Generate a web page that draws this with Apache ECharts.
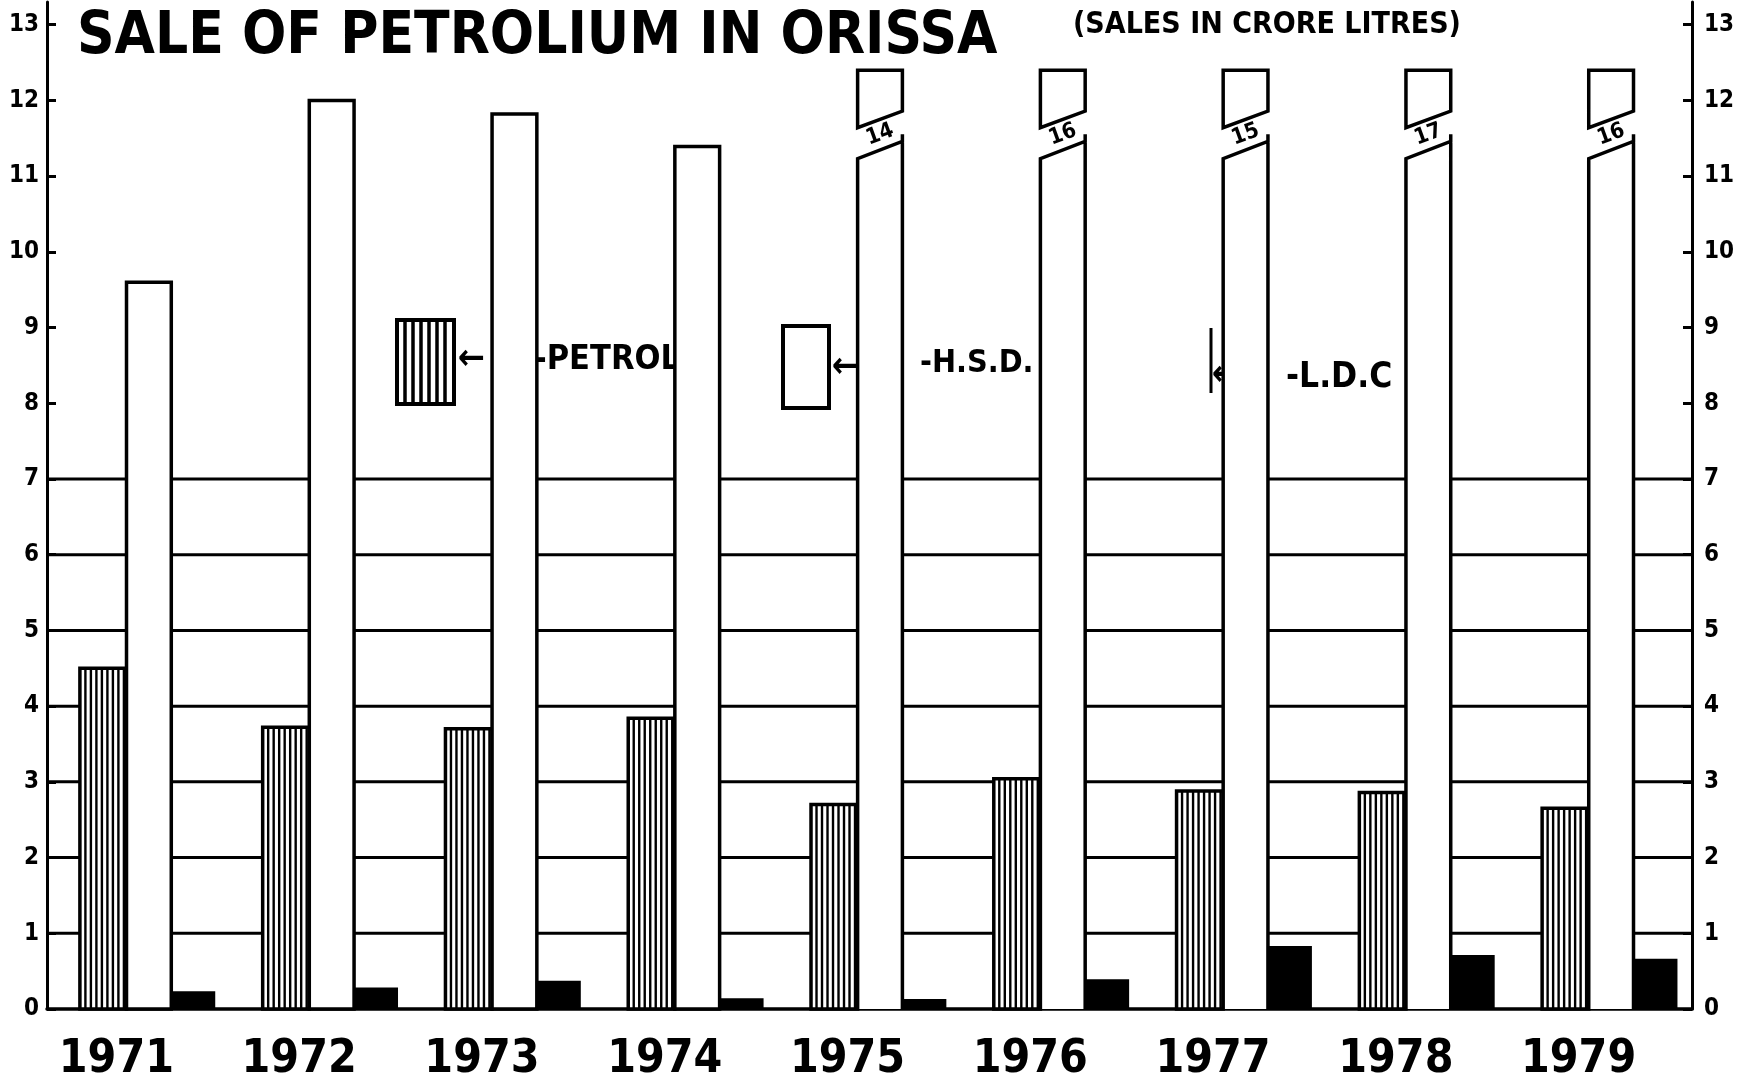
<!DOCTYPE html>
<html>
<head>
<meta charset="utf-8">
<title>Sale of Petrolium in Orissa</title>
<script src="https://cdn.jsdelivr.net/npm/echarts@6/dist/echarts.min.js"></script>
<style>
  html, body { margin: 0; padding: 0; background: #fff; }
  #chart { width: 1738px; height: 1089px; }
</style>
</head>
<body>
<div id="chart"></div>
<script>
// sales in crore litres
const years = ['1971', '1972', '1973', '1974', '1975', '1976', '1977', '1978', '1979'];
const petrol = [4.5, 3.72, 3.7, 3.84, 2.7, 3.04, 2.88, 2.86, 2.65];
const hsd = [9.6, 12.0, 11.82, 11.39, 14, 16, 15, 17, 16];
const ldc = [0.22, 0.27, 0.36, 0.13, 0.12, 0.38, 0.82, 0.7, 0.65];
const yTicks = [0, 1, 2, 3, 4, 5, 6, 7, 8, 9, 10, 11, 12, 13];
const gridLevels = [1, 2, 3, 4, 5, 6, 7];

const FONT = '"DejaVu Sans Condensed", "DejaVu Sans", sans-serif';
const INK = '#000';
const AXIS_MAX = 13;

// where each bar sits inside its year band (fraction of band width)
const slots = { petrol: [0.18, 0.435], hsd: [0.435, 0.68], ldc: [0.68, 0.915] };

function barBox(api, slot, v) {
  const i = api.value(0);
  const base = api.coord([i, 0]);
  const bw = api.size([1, 0])[0];
  const left = base[0] - bw / 2;
  return {
    x0: left + slot[0] * bw,
    x1: left + slot[1] * bw,
    y0: base[1],
    yv: api.coord([i, v])[1],
    at: (val) => api.coord([i, val])[1]
  };
}

function stripes(x0, x1, yTop, yBot, step) {
  const out = [];
  for (let x = x0 + step; x < x1 - 1; x += step) {
    out.push({
      type: 'line',
      shape: { x1: x, y1: yTop, x2: x, y2: yBot },
      style: { stroke: INK, lineWidth: 2.4 }
    });
  }
  return out;
}

function renderPetrol(params, api) {
  const b = barBox(api, slots.petrol, api.value(1));
  return {
    type: 'group',
    children: [
      {
        type: 'rect',
        shape: { x: b.x0, y: b.yv, width: b.x1 - b.x0, height: b.y0 - b.yv },
        style: { fill: '#fff', stroke: INK, lineWidth: 3.5 }
      }
    ].concat(stripes(b.x0, b.x1, b.yv, b.y0, 5.5))
  };
}

function renderHsd(params, api) {
  const v = api.value(1);
  const b = barBox(api, slots.hsd, v);
  const line = { fill: '#fff', stroke: INK, lineWidth: 3.5 };
  if (v <= AXIS_MAX) {
    return {
      type: 'rect',
      shape: { x: b.x0, y: b.yv, width: b.x1 - b.x0, height: b.y0 - b.yv },
      style: line
    };
  }
  // broken bar: value is off the scale, so draw a cut with the figure in it
  const lowL = b.at(11.23), lowR = b.at(11.46);
  const upL = b.at(11.64), upR = b.at(11.86), top = b.at(12.4);
  return {
    type: 'group',
    children: [
      {
        type: 'polyline',
        shape: { points: [[b.x0, b.y0], [b.x0, lowL], [b.x1, lowR], [b.x1, lowR - 7], [b.x1, b.y0]] },
        style: line
      },
      {
        type: 'polygon',
        shape: { points: [[b.x0, upL], [b.x0, top], [b.x1, top], [b.x1, upR]] },
        style: line
      },
      {
        type: 'text',
        x: (b.x0 + b.x1) / 2,
        y: (lowL + lowR + upL + upR) / 4,
        rotation: 0.35,
        style: {
          text: String(v), fill: INK, font: 'bold 22px ' + FONT,
          align: 'center', verticalAlign: 'middle'
        }
      }
    ]
  };
}

function renderLdc(params, api) {
  const b = barBox(api, slots.ldc, api.value(1));
  return {
    type: 'rect',
    shape: { x: b.x0, y: b.yv, width: b.x1 - b.x0, height: b.y0 - b.yv },
    style: { fill: INK, stroke: INK, lineWidth: 2 }
  };
}

function renderGridLine(params, api) {
  const cs = params.coordSys;
  const y = api.coord([0, api.value(1)])[1];
  return {
    type: 'line',
    shape: { x1: cs.x, y1: y, x2: cs.x + cs.width, y2: y },
    style: { stroke: INK, lineWidth: 3 }
  };
}

const pairs = (arr) => arr.map((v, i) => [i, v]);

const valueAxis = (pos) => ({
  type: 'value',
  position: pos,
  min: 0,
  max: 13.3,
  interval: 1,
  splitLine: { show: false },
  axisLine: { show: true, lineStyle: { color: INK, width: 3 } },
  axisTick: { show: true, inside: true, length: 9, customValues: yTicks, lineStyle: { color: INK, width: 3 } },
  axisLabel: {
    customValues: yTicks,
    color: INK, fontFamily: FONT, fontWeight: 'bold', fontSize: 24,
    margin: pos === 'left' ? 8 : 12
  }
});

const legendBox = (x, y, w, h, striped) => {
  const els = [{
    type: 'rect',
    shape: { x: x, y: y, width: w, height: h },
    style: { fill: '#fff', stroke: INK, lineWidth: 4 }
  }];
  if (striped) {
    stripes(x, x + w, y, y + h, 8).forEach((s) => { s.style.lineWidth = 3.5; els.push(s); });
  }
  return els;
};

const legendText = (x, y, text, size) => ({
  type: 'text', x: x, y: y,
  style: { text: text, fill: INK, font: 'bold ' + size + 'px ' + FONT, verticalAlign: 'middle' }
});

const chart = echarts.init(document.getElementById('chart'));
chart.setOption({
  animation: false,
  backgroundColor: '#fff',
  title: [
    {
      text: 'SALE OF PETROLIUM IN ORISSA',
      left: 72, top: 4,
      textStyle: { color: INK, fontFamily: FONT, fontWeight: 'bold', fontSize: 58 }
    },
    {
      text: '(SALES IN CRORE LITRES)',
      left: 1068, top: 5,
      textStyle: { color: INK, fontFamily: FONT, fontWeight: 'bold', fontSize: 30 }
    }
  ],
  grid: { left: 47, right: 46, top: 2, bottom: 80 },
  xAxis: {
    type: 'category',
    data: years,
    axisLine: { show: true, lineStyle: { color: INK, width: 3.5 } },
    axisTick: { show: false },
    axisLabel: {
      color: INK, fontFamily: FONT, fontWeight: 'bold', fontSize: 46,
      margin: 28, padding: [0, 44, 0, 0]
    }
  },
  yAxis: [valueAxis('left'), valueAxis('right')],
  series: [
    { name: 'grid', type: 'custom', z: 1, renderItem: renderGridLine, data: gridLevels.map((v) => [0, v]), encode: { x: 0, y: 1 }, silent: true },
    { name: 'PETROL', type: 'custom', z: 3, renderItem: renderPetrol, data: pairs(petrol), encode: { x: 0, y: 1 } },
    { name: 'H.S.D.', type: 'custom', z: 3, renderItem: renderHsd, data: pairs(hsd), encode: { x: 0, y: 1 }, clip: false },
    { name: 'L.D.C', type: 'custom', z: 3, renderItem: renderLdc, data: pairs(ldc), encode: { x: 0, y: 1 } }
  ],
  graphic: [].concat(
    legendBox(397, 320, 57, 84, true),
    [legendText(458, 360, '\u2190', 36), legendText(534, 360, '-PETROL', 34)],
    legendBox(783, 326, 46, 82, false),
    [legendText(832, 368, '\u2190', 36), legendText(920, 364, '-H.S.D.', 32)],
    [{ type: 'line', shape: { x1: 1211, y1: 328, x2: 1211, y2: 393 }, style: { stroke: INK, lineWidth: 3 } }],
    [legendText(1212, 376, '\u2190', 36), legendText(1286, 378, '-L.D.C', 35)]
  )
});
</script>
</body>
</html>
